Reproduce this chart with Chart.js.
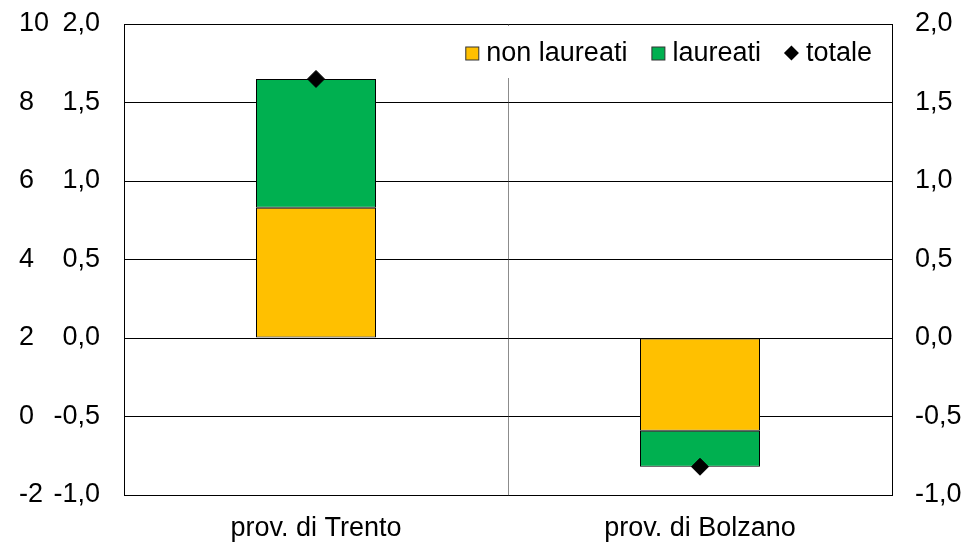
<!DOCTYPE html>
<html>
<head>
<meta charset="utf-8">
<script src="https://cdn.jsdelivr.net/npm/chart.js@4.4.1/dist/chart.umd.min.js"></script>
<style>
  html, body { margin: 0; padding: 0; background: #fff; }
  #wrap { width: 967px; height: 542px; }
</style>
</head>
<body>
<div id="wrap"><canvas id="chart"></canvas></div>
<script>
const categories = ["prov. di Trento", "prov. di Bolzano"];
const nonLaureati = [0.83, -0.59];
const laureati = [0.82, -0.23];
const totale = [1.65, -0.82];
const valueTicks = [-1, -0.5, 0, 0.5, 1, 1.5, 2];
const outerTicks = [-2, 0, 2, 4, 6, 8, 10];

const FONT = "'Liberation Sans', Arial, sans-serif";
const tickFont = { family: FONT, size: 27 };
const fmt = (v) => v.toFixed(1).replace(".", ",");

// fixed axis width, and no extra room for the end labels (tick padding would add it)
const fixWidth = (w) => (s) => {
  s.width = w;
  s.paddingTop = 0;
  s.paddingBottom = 0;
};

// legend sits inside the plot on a white patch, like the original
const innerLegend = {
  id: "innerLegend",
  afterDraw(chart) {
    const ctx = chart.ctx;
    const area = chart.chartArea;
    const items = chart.data.datasets.map((ds) => ({
      label: ds.label,
      color: ds.backgroundColor,
      diamond: ds.type === "line",
    }));
    const box = 13, gap = 8, spacing = 24;

    ctx.save();
    ctx.font = "27px " + FONT;
    ctx.textBaseline = "middle";
    let width = 0;
    items.forEach((it, i) => {
      it.w = ctx.measureText(it.label).width;
      width += box + gap + it.w + (i ? spacing : 0);
    });
    const right = area.right - 20;
    const y = area.top + 29;

    ctx.fillStyle = "#fff";
    ctx.fillRect(right - width - 8, area.top + 2, width + 16, 52);

    let x = right - width;
    items.forEach((it) => {
      if (it.diamond) {
        const r = 7.5, cx = x + box / 2;
        ctx.beginPath();
        ctx.moveTo(cx - r, y);
        ctx.lineTo(cx, y - r);
        ctx.lineTo(cx + r, y);
        ctx.lineTo(cx, y + r);
        ctx.closePath();
        ctx.fillStyle = "#000";
        ctx.fill();
      } else {
        ctx.fillStyle = it.color;
        ctx.fillRect(x + 0.5, y - box / 2 + 0.5, box, box);
        ctx.strokeStyle = "#333";
        ctx.lineWidth = 1;
        ctx.strokeRect(x + 0.5, y - box / 2 + 0.5, box, box);
      }
      ctx.fillStyle = "#000";
      ctx.textAlign = "left";
      ctx.fillText(it.label, x + box + gap, y + 1);
      x += box + gap + it.w + spacing;
    });
    ctx.restore();
  },
};

new Chart(document.getElementById("chart"), {
  type: "bar",
  data: {
    labels: categories,
    datasets: [
      {
        label: "non laureati",
        data: nonLaureati,
        backgroundColor: "#FFC000",
        borderColor: "#000",
        borderWidth: 1,
        borderSkipped: false,
        stack: "a",
        order: 1,
      },
      {
        label: "laureati",
        data: laureati,
        backgroundColor: "#00B050",
        borderColor: "#000",
        borderWidth: 1,
        borderSkipped: false,
        stack: "a",
        order: 1,
      },
      {
        type: "line",
        label: "totale",
        data: totale,
        showLine: false,
        pointStyle: "rectRot",
        pointRadius: 8.5,
        pointBorderWidth: 1,
        backgroundColor: "#000",
        borderColor: "#000",
        stack: "t",
        order: 0,
      },
    ],
  },
  options: {
    responsive: true,
    maintainAspectRatio: false,
    animation: false,
    layout: { padding: { left: 19, top: 24, right: 0, bottom: 0 } },
    datasets: { bar: { barPercentage: 1, categoryPercentage: 0.3125 } },
    plugins: {
      legend: { display: false },
      tooltip: { enabled: false },
    },
    scales: {
      x: {
        offset: true,
        grid: {
          offset: true,
          drawTicks: false,
          color: (c) => (c.index === 1 ? "#8c8c8c" : "rgba(0,0,0,0)"),
        },
        border: { color: "#000" },
        ticks: { font: tickFont, color: "#000", padding: 17, maxRotation: 0 },
        afterFit: (s) => { s.height = 47; },
      },
      y: {
        position: "left",
        stacked: true,
        min: -1,
        max: 2,
        afterBuildTicks: (s) => { s.ticks = valueTicks.map((v) => ({ value: v })); },
        grid: { color: "#000", drawTicks: false },
        border: { color: "#000" },
        ticks: { font: tickFont, color: "#000", padding: 24, callback: (v) => fmt(v) },
        afterFit: fixWidth(75),
      },
      yOuter: {
        position: "left",
        weight: 1,
        min: -2,
        max: 10,
        afterBuildTicks: (s) => { s.ticks = outerTicks.map((v) => ({ value: v })); },
        grid: { display: false, drawTicks: false },
        border: { display: false },
        ticks: { font: tickFont, color: "#000", padding: 0, crossAlign: "far" },
        afterFit: fixWidth(30),
      },
      yRight: {
        position: "right",
        min: -1,
        max: 2,
        afterBuildTicks: (s) => { s.ticks = valueTicks.map((v) => ({ value: v })); },
        grid: { display: false, drawTicks: false },
        border: { color: "#000" },
        ticks: { font: tickFont, color: "#000", padding: 23, callback: (v) => fmt(v) },
        afterFit: fixWidth(75),
      },
    },
  },
  plugins: [innerLegend],
});
</script>
</body>
</html>
